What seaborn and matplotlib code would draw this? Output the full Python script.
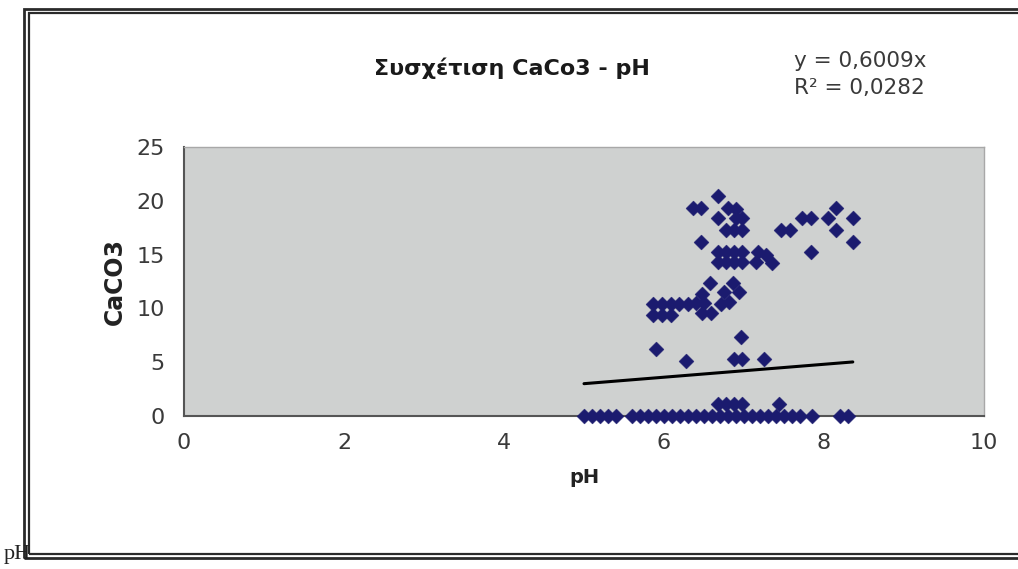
import matplotlib
matplotlib.use("Agg")
import matplotlib.pyplot as plt
from matplotlib.patches import Rectangle
import seaborn as sns
import pandas as pd
import numpy as np

# ---- data ----
ph_zero = [5.0, 5.1, 5.2, 5.3, 5.4, 5.6, 5.7, 5.8, 5.9, 6.0, 6.1, 6.2, 6.3, 6.4,
           6.5, 6.6, 6.7, 6.8, 6.9, 7.0, 7.1, 7.2, 7.3, 7.4, 7.5, 7.6, 7.7,
           7.85, 8.2, 8.3]
ph_other = [6.67, 6.78, 6.88, 6.98, 7.44,
            5.90, 6.28, 6.96, 6.88, 6.98, 7.25,
            5.86, 5.98, 6.09, 6.48, 6.59,
            5.86, 5.98, 6.09, 6.19, 6.30, 6.40, 6.50, 6.71, 6.81,
            6.48, 6.75, 6.94, 6.57, 6.86,
            6.67, 6.78, 6.88, 6.98, 7.15, 7.35,
            6.67, 6.78, 6.88, 6.98, 7.17, 7.27,
            6.46,
            6.78, 6.88, 6.98,
            6.67, 6.90, 6.98,
            6.36, 6.46, 6.80, 6.90,
            6.67,
            7.46, 7.57, 7.73, 7.84, 8.05, 8.15, 8.36, 8.15, 8.36, 7.84]
caco3_other = [1.1, 1.1, 1.1, 1.1, 1.1,
               6.2, 5.1, 7.3, 5.3, 5.3, 5.3,
               9.4, 9.4, 9.4, 9.6, 9.6,
               10.4, 10.4, 10.4, 10.4, 10.4, 10.5, 10.5, 10.4, 10.6,
               11.3, 11.5, 11.5, 12.4, 12.4,
               14.3, 14.3, 14.3, 14.3, 14.3, 14.2,
               15.2, 15.2, 15.2, 15.2, 15.2, 15.0,
               16.2,
               17.3, 17.3, 17.3,
               18.4, 18.4, 18.4,
               19.3, 19.3, 19.3, 19.2,
               20.4,
               17.3, 17.3, 18.4, 18.4, 18.4, 19.3, 18.4, 17.3, 16.2, 15.2]
caco3_zero = [0.0] * len(ph_zero)

slope = 0.6009
r2 = 0.0282
x_ticks = [0, 2, 4, 6, 8, 10]
y_ticks = [0, 5, 10, 15, 20, 25]
title = "Συσχέτιση CaCo3 - pH"
x_label = "pH"
y_label = "CaCO3"

df = pd.DataFrame({"pH": ph_zero + ph_other, "CaCO3": caco3_zero + caco3_other})

sns.set_style("white")
plt.rcParams['font.family'] = ['DejaVu Sans']

W, H = 1018, 569
fig = plt.figure(figsize=(W / 100, H / 100), dpi=100)
fig.patch.set_facecolor("white")

# frame (double border)
def fr(x0, y0, x1, y1):
    return (x0 / W, 1 - y1 / H), (x1 - x0) / W, (y1 - y0) / H

for (xy, w, h), lw in [(fr(24, 9, 1040, 558), 2.0), (fr(29, 13, 1040, 554), 1.6)]:
    fig.add_artist(Rectangle(xy, w, h, transform=fig.transFigure, fill=False,
                             edgecolor="#2a2a2a", linewidth=lw))

ax = fig.add_axes([184 / W, 1 - 416 / H, 800 / W, 269 / H])
ax.set_facecolor("#cfd1d0")

sns.scatterplot(data=df, x="pH", y="CaCO3", marker="D", s=58, color="#1b1b6f",
                edgecolor="#1b1b6f", linewidth=0.3, ax=ax, zorder=3, clip_on=False)

xs = np.array([df["pH"].min(), df["pH"].max()])
sns.lineplot(x=xs, y=slope * xs, color="black", linewidth=2.2, ax=ax, zorder=4)

ax.set_xlim(0, 10)
ax.set_ylim(0, 25)
ax.set_xticks(x_ticks)
ax.set_yticks(y_ticks)
ax.set_xticklabels([str(t) for t in x_ticks])
ax.set_yticklabels([str(t) for t in y_ticks])
ax.tick_params(axis="both", direction="out", length=6, width=1.2, color="#555555",
               labelsize=16, labelcolor="#3a3a3a")
ax.tick_params(axis="y", pad=8)
ax.tick_params(axis="x", pad=6)
ax.set_xlabel(x_label, fontsize=14, fontweight="bold", color="#222222", labelpad=11)
ax.set_ylabel(y_label, fontsize=17, fontweight="bold", color="#222222", labelpad=7)

for side in ["left", "bottom"]:
    ax.spines[side].set_color("#555555")
    ax.spines[side].set_linewidth(1.5)
for side in ["top", "right"]:
    ax.spines[side].set_color("#a8a8a8")
    ax.spines[side].set_linewidth(1.0)

fig.text(512 / W, 1 - 68 / H, title, fontsize=16, fontweight="bold", color="#1a1a1a",
         ha="center", va="center")
fig.text(794 / W, 1 - 61 / H, "y = " + f"{slope:.4f}".replace(".", ",") + "x",
         fontsize=15.5, color="#3a3a3a", ha="left", va="center")
fig.text(794 / W, 1 - 88 / H, "R² = " + f"{r2:.4f}".replace(".", ","),
         fontsize=15.5, color="#3a3a3a", ha="left", va="center")

fig.text(4 / W, 1 - 555 / H, "pH", fontsize=16, family=["Liberation Serif"],
         color="#222222", ha="left", va="center")

fig.savefig("out.png", dpi=100)
